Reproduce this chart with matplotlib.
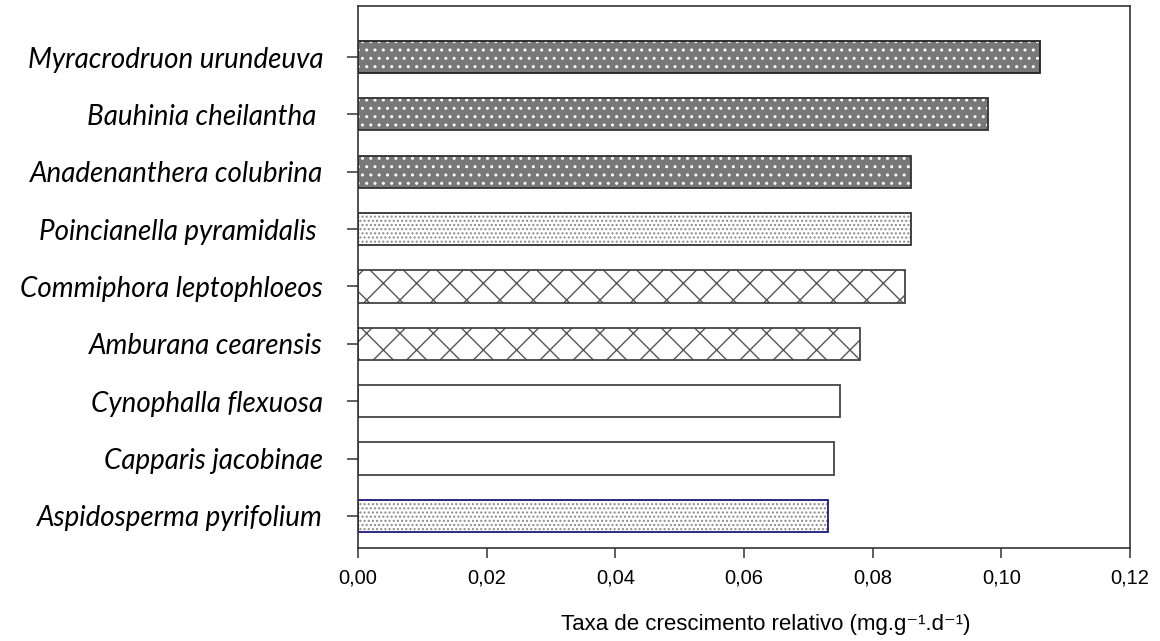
import matplotlib.pyplot as plt

# species from bottom to top
species = ["Aspidosperma pyrifolium", "Capparis jacobinae", "Cynophalla flexuosa",
           "Amburana cearensis", "Commiphora leptophloeos", "Poincianella pyramidalis ",
           "Anadenanthera colubrina", "Bauhinia cheilantha ", "Myracrodruon urundeuva"]
taxa = [0.073, 0.074, 0.075, 0.078, 0.085, 0.086, 0.086, 0.098, 0.106]
grupo = ["ponto", "branco", "branco", "cruz", "cruz", "ponto", "escuro", "escuro", "escuro"]

# fill style per group: face, hatch, hatch colour
estilos = {
    "escuro": ("#787878", "..", "white"),
    "ponto": ("white", "....", "#8a8a8a"),
    "cruz": ("white", "x", "#555555"),
    "branco": ("white", "", "white"),
}
bordas = ["#1a1a80", "#444444", "#444444", "#444444", "#444444",
          "#333333", "#333333", "#333333", "#222222"]

plt.rcParams["hatch.linewidth"] = 1.0
fonte = ["Liberation Sans", "DejaVu Sans"]

fig = plt.figure(figsize=(11.6, 6.41), dpi=100)
ax = fig.add_axes([0.3086, 0.1451, 0.6655, 0.8455])

pos = list(range(len(species)))
for i, (v, g) in enumerate(zip(taxa, grupo)):
    face, hatch, hcol = estilos[g]
    ax.barh(pos[i], v, height=0.56, color=face, hatch=hatch, edgecolor=hcol, linewidth=0)
    ax.barh(pos[i], v, height=0.56, fill=False, edgecolor=bordas[i], linewidth=1.3)

ax.set_xlim(0, 0.12)
ax.set_ylim(-0.56, 8.89)
xt = [0, 0.02, 0.04, 0.06, 0.08, 0.10, 0.12]
ax.set_xticks(xt)
ax.set_xticklabels([f"{t:.2f}".replace(".", ",") for t in xt], family=fonte, fontsize=14.5)
ax.set_yticks(pos)
ax.set_yticklabels(species, family="Lato", fontstyle="italic", fontsize=20)
ax.tick_params(axis="y", length=8, width=1.1, pad=17, color="#333333")
ax.tick_params(axis="x", length=7, width=1.1, pad=8, color="#333333")
ax.set_xlabel("Taxa de crescimento relativo (mg.g\u207b\u00b9.d\u207b\u00b9)",
              family=fonte, fontsize=16)
ax.xaxis.set_label_coords(0.528, -0.122)
for s in ax.spines.values():
    s.set_color("#333333")
    s.set_linewidth(1.2)

plt.savefig("out.png", dpi=100)
plt.close()
